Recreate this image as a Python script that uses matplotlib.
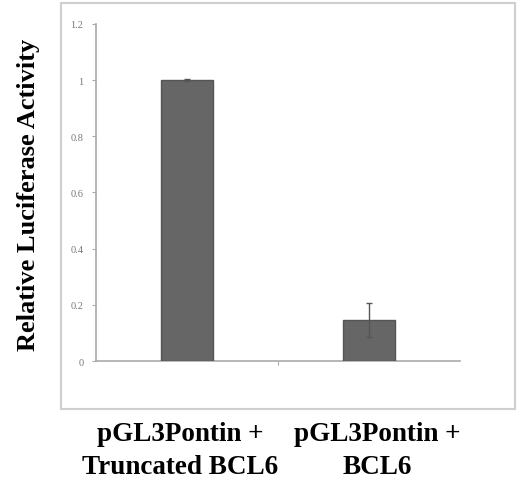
import matplotlib
matplotlib.use('Agg')
import matplotlib.pyplot as plt
from matplotlib.patches import Rectangle

categories = ["pGL3Pontin +\nTruncated BCL6", "pGL3Pontin +\nBCL6"]
values = [1.0, 0.146]
errors = [0.004, 0.06]
yticks = [0, 0.2, 0.4, 0.6, 0.8, 1, 1.2]
ytick_labels = ["0", "0.2", "0.4", "0.6", "0.8", "1", "1.2"]

serif = ['Liberation Serif', 'DejaVu Serif']

fig = plt.figure(figsize=(5.2, 4.85), dpi=100)
ax = fig.add_axes([0.1846, 0.2536, 0.70, 0.695])

# outer light frame around the plot area
fig.patches.append(Rectangle((0.117, 0.1546), 0.873, 0.837, transform=fig.transFigure,
                             fill=False, edgecolor='#cfcfcf', linewidth=1.5))

x = [0, 1]
ax.bar(x, values, width=0.29, color='#666666', edgecolor='#555555', linewidth=1,
       yerr=errors, error_kw=dict(ecolor='#555555', elinewidth=1, capsize=2), zorder=3)

ax.set_xlim(-0.5, 1.5)
ax.set_ylim(0, 1.2)
ax.set_yticks(yticks)
ax.set_yticklabels(ytick_labels, fontfamily=serif, fontsize=7.5, color='#777777')
ax.set_xticks([0.5])
ax.set_xticklabels([""])
ax.tick_params(axis='both', length=3, width=0.8, color='#aaaaaa', pad=6)

for side in ['top', 'right']:
    ax.spines[side].set_visible(False)
for side in ['left', 'bottom']:
    ax.spines[side].set_color('#aaaaaa')
    ax.spines[side].set_linewidth(1.2)

fig.text(0.055, 0.598, "Relative Luciferase Activity", rotation=90, ha='center', va='center',
         fontfamily=serif, fontweight='bold', fontsize=19)

label_x = [0.346, 0.725]
for lx, lab in zip(label_x, categories):
    fig.text(lx, 0.071, lab, ha='center', va='center', fontfamily=serif, fontweight='bold',
             fontsize=19.5, linespacing=1.42)

fig.savefig("out.png", dpi=100)
